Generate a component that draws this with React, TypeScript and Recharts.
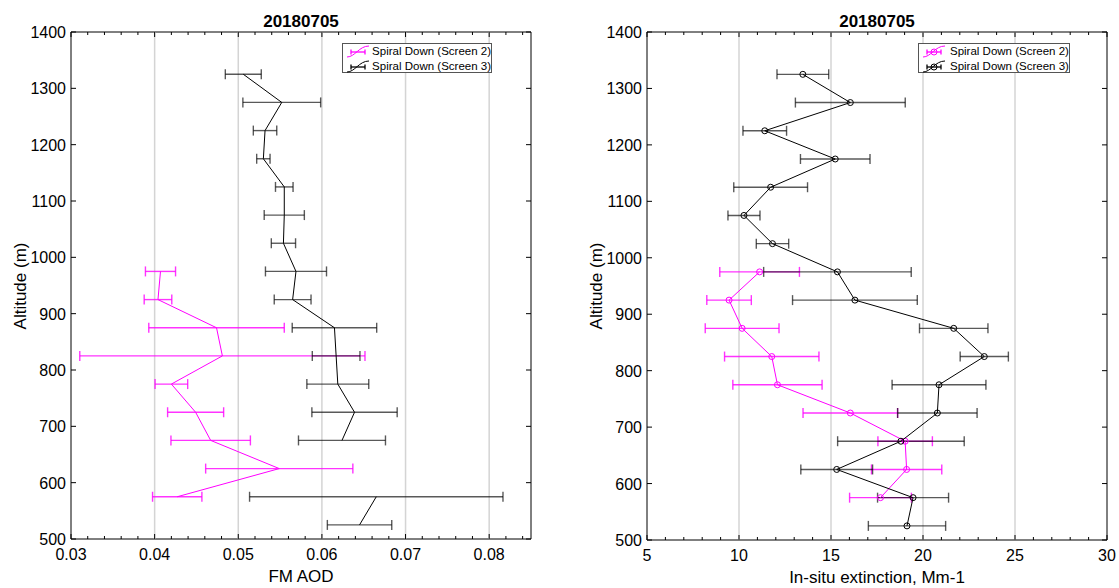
import React from 'react';
import { ScatterChart, Scatter, XAxis, YAxis, ErrorBar, ReferenceLine, ReferenceArea } from 'recharts';

const FONT = '"Liberation Sans", Arial, Helvetica, sans-serif';

// ---------- data ----------
const altitudeAll = [1325, 1275, 1225, 1175, 1125, 1075, 1025, 975, 925, 875, 825, 775, 725, 675, 625, 575, 525];
const altitudeLow = [975, 925, 875, 825, 775, 725, 675, 625, 575];

// FM AOD, Spiral Down (Screen 3)  (null = missing)
const aodScreen3 = [0.0506, 0.0552, 0.0532, 0.0530, 0.0555, 0.0555, 0.0554, 0.0569, 0.0565, 0.0615, 0.0617, 0.0619, 0.0639, 0.0624, null, 0.0665, 0.0645];
const aodScreen3Err = [0.00215, 0.00465, 0.0014, 0.0008, 0.00105, 0.0024, 0.00145, 0.00365, 0.0022, 0.00505, 0.00285, 0.0037, 0.0051, 0.0052, null, 0.01515, 0.00385];
// FM AOD, Spiral Down (Screen 2)
const aodScreen2 = [0.0407, 0.0404, 0.0474, 0.0481, 0.0420, 0.0449, 0.0467, 0.0549, 0.0427];
const aodScreen2Err = [0.0018, 0.00165, 0.0081, 0.01705, 0.00195, 0.00335, 0.00475, 0.0088, 0.00295];

// In-situ extinction, Screen 3
const extScreen3 = [13.47, 16.05, 11.40, 15.23, 11.72, 10.27, 11.82, 15.35, 16.30, 21.67, 23.33, 20.87, 20.78, 18.80, 15.31, 19.46, 19.13];
const extScreen3Err = [1.405, 2.985, 1.185, 1.89, 2.005, 0.87, 0.88, 4.01, 3.39, 1.86, 1.31, 2.55, 2.16, 3.44, 1.95, 1.93, 2.10];
// In-situ extinction, Screen 2
const extScreen2 = [11.12, 9.46, 10.17, 11.78, 12.09, 16.05, 19.03, 19.11, 17.69];
const extScreen2Err = [2.165, 1.21, 2.005, 2.565, 2.425, 2.57, 1.48, 1.91, 1.68];

const altTicks = [500, 600, 700, 800, 900, 1000, 1100, 1200, 1300, 1400];
const aodMajorTicks = [0.03, 0.04, 0.05, 0.06, 0.07, 0.08];
const aodAllTicks = [0.03, 0.032, 0.034, 0.036, 0.038, 0.04, 0.042, 0.044, 0.046, 0.048, 0.05, 0.052, 0.054, 0.056, 0.058, 0.06, 0.062, 0.064, 0.066, 0.068, 0.07, 0.072, 0.074, 0.076, 0.078, 0.08, 0.082, 0.084];
const extMajorTicks = [5, 10, 15, 20, 25, 30];
const extAllTicks = [5, 6, 7, 8, 9, 10, 11, 12, 13, 14, 15, 16, 17, 18, 19, 20, 21, 22, 23, 24, 25, 26, 27, 28, 29, 30];

const TITLE = '20180705';
const LEGEND_LABELS = ['Spiral Down (Screen 2)', 'Spiral Down (Screen 3)'];

const MAGENTA = '#ff00ff';
const BLACK = '#000000';

type Pt = { x: number; y: number; err: number };

function build(alts: number[], vals: (number | null)[], errs: (number | null)[]): Pt[][] {
  const segs: Pt[][] = [];
  let cur: Pt[] = [];
  alts.forEach((a, i) => {
    const v = vals[i];
    const e = errs[i];
    if (v == null || e == null) {
      if (cur.length) segs.push(cur);
      cur = [];
    } else {
      cur.push({ x: v, y: a, err: e });
    }
  });
  if (cur.length) segs.push(cur);
  return segs;
}

const isMajor = (v: number, majors: number[]) => majors.some((m) => Math.abs(m - v) < 1e-9);

function makeXTick(majors: number[], fmt: (v: number) => string, plotTop: number) {
  return (props: any) => {
    const { x, y, payload } = props;
    const v = payload.value as number;
    const major = isMajor(v, majors);
    const len = major ? 5 : 3;
    return (
      <g>
        <line x1={x} x2={x} y1={y} y2={y - len} stroke="#000" strokeWidth={1} />
        <line x1={x} x2={x} y1={plotTop} y2={plotTop + len} stroke="#000" strokeWidth={1} />
        {major && (
          <text x={x} y={y + 21} textAnchor="middle" fontSize={16} fontFamily={FONT} fill="#000">
            {fmt(v)}
          </text>
        )}
      </g>
    );
  };
}

function makeYTick(plotRight: number) {
  return (props: any) => {
    const { x, y, payload } = props;
    return (
      <g>
        <line x1={x} x2={x + 5} y1={y} y2={y} stroke="#000" strokeWidth={1} />
        <line x1={plotRight - 5} x2={plotRight} y1={y} y2={y} stroke="#000" strokeWidth={1} />
        <text x={x - 5} y={y + 6} textAnchor="end" fontSize={16} fontFamily={FONT} fill="#000">
          {payload.value}
        </text>
      </g>
    );
  };
}

const NoShape = () => <g />;
const makeCircle = (color: string) => (props: any) => {
  const { cx, cy } = props;
  if (cx == null || cy == null) return <g />;
  return <circle cx={cx} cy={cy} r={3} fill="none" stroke={color} strokeWidth={1} />;
};

type PanelProps = {
  width: number;
  margin: { top: number; right: number; bottom: number; left: number };
  domain: [number, number];
  majors: number[];
  allTicks: number[];
  fmt: (v: number) => string;
  series: { segs: Pt[][]; color: string; barOpacity: number; markers: boolean }[];
};

function Panel({ width, margin, domain, majors, allTicks, fmt, series }: PanelProps) {
  const height = 588;
  const plotTop = margin.top;
  const plotRight = width - margin.right;
  return (
    <ScatterChart width={width} height={height} margin={margin}>
      <XAxis
        dataKey="x"
        type="number"
        domain={domain}
        allowDataOverflow
        ticks={allTicks}
        interval={0}
        tickSize={0}
        tickMargin={0}
        tickLine={false}
        axisLine={false}
        height={40}
        tick={makeXTick(majors, fmt, plotTop)}
      />
      <YAxis
        dataKey="y"
        type="number"
        domain={[500, 1400]}
        allowDataOverflow
        ticks={altTicks}
        interval={0}
        tickSize={0}
        tickMargin={0}
        tickLine={false}
        axisLine={false}
        width={60}
        tick={makeYTick(plotRight)}
      />
      {majors
        .filter((m) => m > domain[0] && m < domain[1])
        .map((m) => (
          <ReferenceLine key={m} x={m} stroke="#d4d4d4" strokeWidth={1.5} />
        ))}
      {series.map((s, si) =>
        s.segs.map((seg, gi) => (
          <Scatter
            key={`${si}-${gi}`}
            data={seg}
            isAnimationActive={false}
            line={{ stroke: s.color, strokeWidth: 1 }}
            lineType="joint"
            shape={s.markers ? makeCircle(s.color) : NoShape}
          >
            <ErrorBar
              dataKey="err"
              direction="x"
              width={5}
              stroke={s.color}
              strokeOpacity={s.barOpacity}
              strokeWidth={1.4}
              isAnimationActive={false}
            />
          </Scatter>
        ))
      )}
      <ReferenceArea x1={domain[0]} x2={domain[1]} y1={500} y2={1400} fill="none" stroke="#000" strokeWidth={1} />
    </ScatterChart>
  );
}

function LegendIcon({ color, marker }: { color: string; marker: boolean }) {
  return (
    <svg width={26} height={14} style={{ display: 'block' }}>
      <path d="M2 13 C 10 13, 14 2, 24 2" fill="none" stroke={color} strokeWidth={1} />
      <line x1={6} x2={20} y1={8} y2={8} stroke={color} strokeWidth={1.3} />
      <line x1={6} x2={6} y1={5.5} y2={10.5} stroke={color} strokeWidth={1.3} />
      <line x1={20} x2={20} y1={5.5} y2={10.5} stroke={color} strokeWidth={1.3} />
      {marker && <circle cx={13} cy={8} r={3} fill="none" stroke={color} strokeWidth={1} />}
    </svg>
  );
}

function LegendBox({ left, width, iconWidth, marker }: { left: number; width: number; iconWidth: number; marker: boolean }) {
  const colors = [MAGENTA, BLACK];
  return (
    <div
      style={{
        position: 'absolute',
        left,
        top: 43,
        width,
        height: 30,
        border: '1px solid #555',
        background: '#fff',
        boxSizing: 'border-box',
        fontFamily: FONT,
        fontSize: 11.5,
        color: '#000',
        paddingTop: 0,
      }}
    >
      {LEGEND_LABELS.map((lab, i) => (
        <div key={lab} style={{ display: 'flex', alignItems: 'center', height: 14.5, whiteSpace: 'nowrap' }}>
          <div style={{ width: iconWidth, paddingLeft: 2, boxSizing: 'border-box' }}>
            <LegendIcon color={colors[i]} marker={marker} />
          </div>
          <span>{lab}</span>
        </div>
      ))}
    </div>
  );
}

export default function App() {
  const leftSeries = [
    { segs: build(altitudeLow, aodScreen2, aodScreen2Err), color: MAGENTA, barOpacity: 0.8, markers: false },
    { segs: build(altitudeAll, aodScreen3, aodScreen3Err), color: BLACK, barOpacity: 0.65, markers: false },
  ];
  const rightSeries = [
    { segs: build(altitudeLow, extScreen2, extScreen2Err), color: MAGENTA, barOpacity: 0.8, markers: true },
    { segs: build(altitudeAll, extScreen3, extScreen3Err), color: BLACK, barOpacity: 0.65, markers: true },
  ];
  return (
    <div style={{ position: 'absolute', left: 0, top: 0, width: 1119, height: 588, background: '#fff', overflow: 'hidden' }}>
      <div style={{ position: 'absolute', left: 0, top: 0 }}>
        <Panel
          width={560}
          margin={{ top: 32, right: 29, bottom: 9, left: 11 }}
          domain={[0.03, 0.085]}
          majors={aodMajorTicks}
          allTicks={aodAllTicks}
          fmt={(v) => v.toFixed(2)}
          series={leftSeries}
        />
      </div>
      <div style={{ position: 'absolute', left: 560, top: 0 }}>
        <Panel
          width={559}
          margin={{ top: 32, right: 12, bottom: 8, left: 27 }}
          domain={[5, 30]}
          majors={extMajorTicks}
          allTicks={extAllTicks}
          fmt={(v) => String(v)}
          series={rightSeries}
        />
      </div>
      <svg width={1119} height={588} style={{ position: 'absolute', left: 0, top: 0, pointerEvents: 'none' }}>
        <text x={301} y={27} textAnchor="middle" fontSize={17} fontWeight="bold" fontFamily={FONT}>{TITLE}</text>
        <text x={877} y={27} textAnchor="middle" fontSize={17} fontWeight="bold" fontFamily={FONT}>{TITLE}</text>
        <text x={301} y={582} textAnchor="middle" fontSize={17} fontFamily={FONT}>FM AOD</text>
        <text x={877} y={583} textAnchor="middle" fontSize={17} fontFamily={FONT}>In-situ extinction, Mm-1</text>
        <text transform="translate(26,286) rotate(-90)" textAnchor="middle" fontSize={17} fontFamily={FONT}>Altitude (m)</text>
        <text transform="translate(602,286) rotate(-90)" textAnchor="middle" fontSize={17} fontFamily={FONT}>Altitude (m)</text>
      </svg>
      <LegendBox left={342} width={150} iconWidth={30} marker={false} />
      <LegendBox left={918} width={152} iconWidth={31} marker={true} />
    </div>
  );
}
